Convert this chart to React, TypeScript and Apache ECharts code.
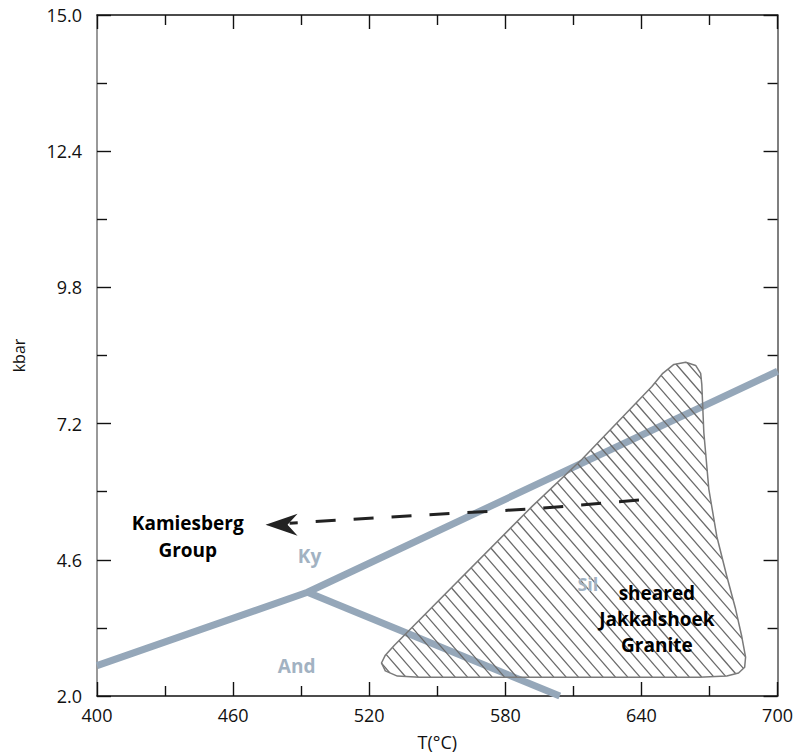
import React, { useEffect, useRef } from "react";
import * as echarts from "echarts";

// ---- data ----
const xTicks = [400, 460, 520, 580, 640, 700];
const yTicks = [2.0, 4.6, 7.2, 9.8, 12.4, 15.0];

// Al2SiO5 reaction lines (T °C, P kbar)
const kyAndSil: [number, number][] = [
  [400, 2.58],
  [492.8, 3.98],
  [700, 8.2],
];
const andSil: [number, number][] = [
  [492.8, 3.98],
  [604, 2.0],
];

// retrograde path (dashed arrow), from start to tip
const pathLine: [number, number][] = [
  [638.9, 5.74],
  [594.9, 5.58],
  [542.1, 5.45],
  [484.9, 5.3],
];
const arrowTip: [number, number] = [474.3, 5.27];

// sheared Jakkalshoek Granite field (outline)
const granitePoly: [number, number][] = [
  [644.6, 7.91],
  [649.4, 8.16],
  [654.3, 8.33],
  [659.5, 8.37],
  [663.9, 8.31],
  [666.1, 8.16],
  [666.6, 7.95],
  [667.5, 7.03],
  [669.7, 5.95],
  [673.2, 5.05],
  [677.6, 4.29],
  [681.5, 3.66],
  [684.2, 3.14],
  [685.9, 2.74],
  [685.5, 2.55],
  [682.8, 2.44],
  [677.6, 2.38],
  [665.3, 2.36],
  [542.1, 2.36],
  [532.4, 2.38],
  [527.1, 2.48],
  [525.4, 2.63],
  [527.1, 2.78],
  [531.1, 2.97],
  [591.8, 5.62],
  [613.8, 6.52],
];

// annotations
const labels = [
  { text: "Kamiesberg\nGroup", pos: [440.0, 5.04], color: "#000000", size: 19, lh: 27 },
  { text: "Ky", pos: [493.7, 4.67], color: "#a2b2c2", size: 19, lh: 22 },
  { text: "And", pos: [488.0, 2.57], color: "#a2b2c2", size: 19, lh: 22 },
  { text: "Sil", pos: [616.4, 4.13], color: "#a2b2c2", size: 18, lh: 22 },
  { text: "sheared\nJakkalshoek\nGranite", pos: [646.8, 3.47], color: "#000000", size: 19, lh: 26 },
];

const FONT = "'Open Sans', 'Noto Sans', sans-serif";
const LINE_BLUE = "#95a7b9";
const AXIS_DARK = "#111111";

export default function App() {
  const ref = useRef<HTMLDivElement>(null);

  useEffect(() => {
    if (!ref.current) return;
    const chart = echarts.init(ref.current, null, { renderer: "svg" });

    const tickCommon = {
      axisTick: { show: true, inside: true, length: 14, lineStyle: { color: AXIS_DARK, width: 1.4 } },
      minorTick: { show: true, splitNumber: 2, length: 10, lineStyle: { color: AXIS_DARK, width: 1.4 } },
      splitLine: { show: false },
      minorSplitLine: { show: false },
    };

    const option: any = {
      animation: false,
      backgroundColor: "#ffffff",
      grid: { left: 97, right: 17, top: 15, bottom: 59, containLabel: false },
      xAxis: [
        {
          type: "value",
          position: "bottom",
          min: xTicks[0],
          max: xTicks[xTicks.length - 1],
          interval: 60,
          axisLine: { show: true, onZero: false, lineStyle: { color: AXIS_DARK, width: 1.5 } },
          ...tickCommon,
          axisLabel: { fontSize: 18, color: "#111111", margin: 10, fontFamily: FONT },
          name: "T(°C)",
          nameLocation: "middle",
          nameGap: 37,
          nameTextStyle: { fontSize: 18, color: "#111111", fontFamily: FONT },
        },
        {
          type: "value",
          position: "top",
          min: xTicks[0],
          max: xTicks[xTicks.length - 1],
          interval: 60,
          axisLine: { show: true, onZero: false, lineStyle: { color: AXIS_DARK, width: 1.5 } },
          ...tickCommon,
          axisLabel: { show: false },
        },
      ],
      yAxis: [
        {
          type: "value",
          position: "left",
          min: yTicks[0],
          max: yTicks[yTicks.length - 1],
          interval: 2.6,
          axisLine: { show: true, onZero: false, lineStyle: { color: "#777777", width: 1.5 } },
          ...tickCommon,
          axisLabel: {
            fontSize: 18,
            color: "#111111",
            margin: 15,
            fontFamily: FONT,
            formatter: (v: number) => v.toFixed(1),
          },
          name: "kbar",
          nameLocation: "middle",
          nameGap: 70,
          nameTextStyle: { fontSize: 16, color: "#111111", fontFamily: FONT },
        },
        {
          type: "value",
          position: "right",
          min: yTicks[0],
          max: yTicks[yTicks.length - 1],
          interval: 2.6,
          axisLine: { show: true, onZero: false, lineStyle: { color: "#555555", width: 1.5 } },
          ...tickCommon,
          axisLabel: { show: false },
        },
      ],
      series: [
        {
          type: "line",
          data: kyAndSil,
          symbol: "none",
          lineStyle: { color: LINE_BLUE, width: 7, cap: "butt", join: "round" },
          silent: true,
          z: 2,
        },
        {
          type: "line",
          data: andSil,
          symbol: "none",
          lineStyle: { color: LINE_BLUE, width: 7, cap: "butt" },
          silent: true,
          z: 2,
        },
        {
          type: "custom",
          coordinateSystem: "cartesian2d",
          data: [granitePoly[0]],
          silent: true,
          z: 3,
          renderItem: (_params: any, api: any) => {
            const pts = granitePoly.map((q) => api.coord(q));
            const s = 1.15;
            const len = Math.hypot(1, s);
            const dx = 1 / len;
            const dy = s / len;
            const nx = -dy;
            const ny = dx;
            const proj = pts.map((q: number[]) => q[0] * nx + q[1] * ny);
            const cmin = Math.min(...proj);
            const cmax = Math.max(...proj);
            const spacing = 9.3;
            const children: any[] = [];
            for (let c = cmin + spacing / 2; c < cmax; c += spacing) {
              const hits: number[][] = [];
              for (let i = 0; i < pts.length; i++) {
                const j = (i + 1) % pts.length;
                const va = proj[i] - c;
                const vb = proj[j] - c;
                if (va < 0 !== vb < 0) {
                  const t = va / (va - vb);
                  hits.push([
                    pts[i][0] + t * (pts[j][0] - pts[i][0]),
                    pts[i][1] + t * (pts[j][1] - pts[i][1]),
                  ]);
                }
              }
              hits.sort((u, v) => u[0] * dx + u[1] * dy - (v[0] * dx + v[1] * dy));
              for (let k = 0; k + 1 < hits.length; k += 2) {
                children.push({
                  type: "line",
                  shape: { x1: hits[k][0], y1: hits[k][1], x2: hits[k + 1][0], y2: hits[k + 1][1] },
                  style: { stroke: "#6a6a6a", lineWidth: 1.3 },
                });
              }
            }
            children.push({
              type: "polygon",
              shape: { points: pts },
              style: { fill: "none", stroke: "#7a7a7a", lineWidth: 1.5, lineJoin: "round" },
            });
            return { type: "group", children };
          },
        },
        {
          type: "line",
          data: pathLine,
          symbol: "none",
          lineStyle: { color: "#222222", width: 3, type: [20, 18] },
          silent: true,
          z: 4,
        },
        {
          type: "scatter",
          data: [arrowTip],
          symbol: "path://M0,11 L32,0 L22,11 L32,22 Z",
          symbolSize: [32, 22],
          symbolOffset: [16, 0],
          itemStyle: { color: "#222222", opacity: 1 },
          silent: true,
          z: 5,
        },
        {
          type: "scatter",
          symbolSize: 0,
          silent: true,
          z: 6,
          itemStyle: { opacity: 1 },
          data: labels.map((l) => ({
            value: l.pos,
            label: {
              show: true,
              position: "inside",
              formatter: l.text,
              color: l.color,
              fontSize: l.size,
              fontWeight: "bold",
              fontFamily: FONT,
              lineHeight: l.lh,
              align: "center",
              verticalAlign: "middle",
            },
          })),
        },
      ],
    };

    chart.setOption(option);
    return () => chart.dispose();
  }, []);

  return (
    <div
      ref={ref}
      style={{ position: "fixed", left: 0, top: 0, width: 796, height: 756, background: "#fff" }}
    />
  );
}
